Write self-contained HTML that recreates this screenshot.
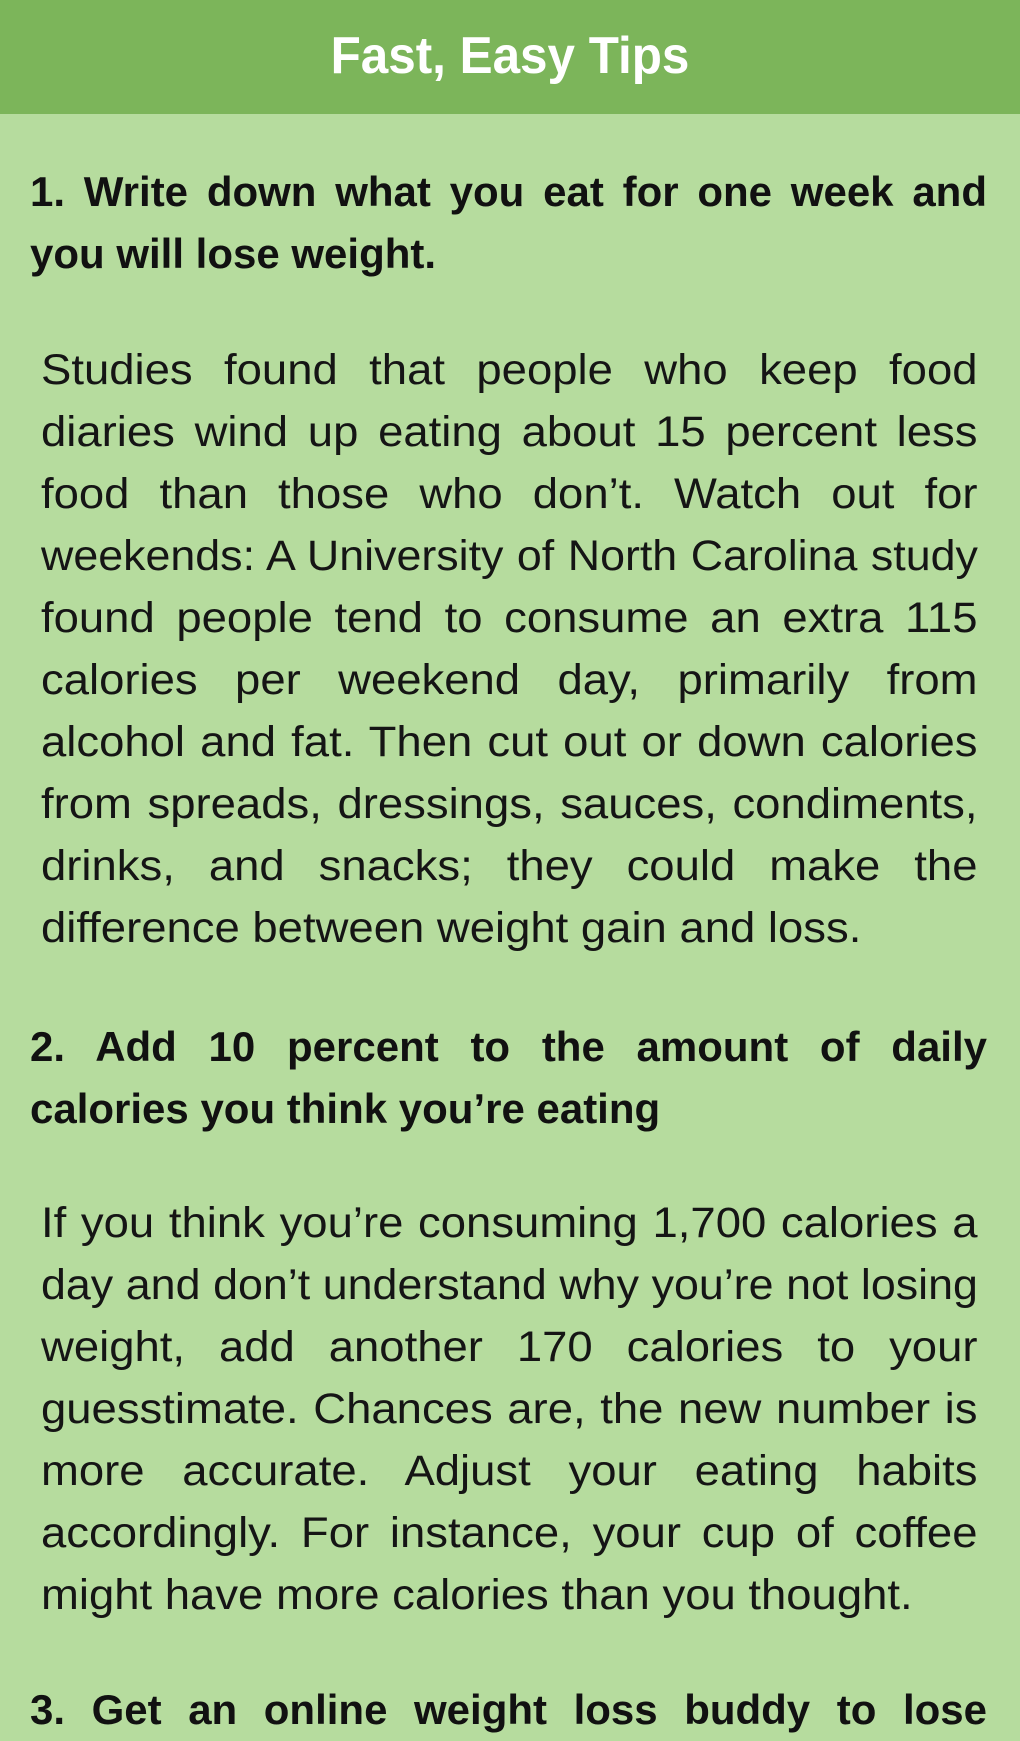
<!DOCTYPE html>
<html><head><meta charset="utf-8"><style>
html,body{margin:0;padding:0}
body{width:1020px;height:1741px;background:#b6dc9e;position:relative;overflow:hidden;font-family:"Liberation Sans",sans-serif;color:#111}
.hdr{position:absolute;left:0;top:0;width:1020px;height:114px;background:#7cb55a}
.ttl{position:absolute;left:0;top:0;width:1020px;height:112px;line-height:112px;color:#fff;font-weight:bold;font-size:52px;text-align:center;transform:scaleX(0.95);transform-origin:510px 0}
.l{position:absolute;height:62px;line-height:62px;white-space:nowrap;transform-origin:0 0}
.j{text-align:justify;text-align-last:justify}
.h{left:30px;width:957px;font-weight:bold;font-size:42px}
.b{left:41px;width:886px;font-size:43px;color:#151515;transform:scaleX(1.057)}
.b.t{width:900px;transform:scaleX(1.041)}
</style></head><body>
<div class="hdr"></div>
<div class="ttl">Fast, Easy Tips</div>
<div class="l h j" style="top:161px">1. Write down what you eat for one week and</div>
<div class="l h" style="top:223px">you will lose weight.</div>

<div class="l b j" style="top:339px">Studies found that people who keep food</div>
<div class="l b j" style="top:401px">diaries wind up eating about 15 percent less</div>
<div class="l b j" style="top:463px">food than those who don’t. Watch out for</div>
<div class="l b j t" style="top:525px">weekends: A University of North Carolina study</div>
<div class="l b j" style="top:587px">found people tend to consume an extra 115</div>
<div class="l b j" style="top:649px">calories per weekend day, primarily from</div>
<div class="l b j" style="top:711px">alcohol and fat. Then cut out or down calories</div>
<div class="l b j" style="top:773px">from spreads, dressings, sauces, condiments,</div>
<div class="l b j" style="top:835px">drinks, and snacks; they could make the</div>
<div class="l b" style="top:897px">difference between weight gain and loss.</div>

<div class="l h j" style="top:1016px">2. Add 10 percent to the amount of daily</div>
<div class="l h" style="top:1078px">calories you think you’re eating</div>

<div class="l b j" style="top:1192px">If you think you’re consuming 1,700 calories a</div>
<div class="l b j t" style="top:1254px">day and don’t understand why you’re not losing</div>
<div class="l b j" style="top:1316px">weight, add another 170 calories to your</div>
<div class="l b j" style="top:1378px">guesstimate. Chances are, the new number is</div>
<div class="l b j" style="top:1440px">more accurate. Adjust your eating habits</div>
<div class="l b j" style="top:1502px">accordingly. For instance, your cup of coffee</div>
<div class="l b" style="top:1564px">might have more calories than you thought.</div>

<div class="l h j" style="top:1679px">3. Get an online weight loss buddy to lose</div>
</body></html>
